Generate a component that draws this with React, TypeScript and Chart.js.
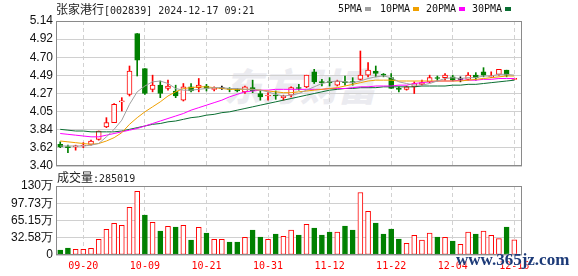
import React, { useEffect, useRef } from "react";
import { Chart, registerables } from "chart.js";

Chart.register(...registerables);

// ---- data ----
const tickLabels = ["09-20", "10-09", "10-21", "10-31", "11-12", "11-22", "12-04", "12-16"];
const tickIndex = [3, 11, 19, 27, 35, 43, 51, 59];

const opens = [3.66, 3.63, 3.63, 3.64, 3.66, 3.72, 3.87, 3.92, 4.17, 4.26, 4.99, 4.57, 4.32, 4.37, 4.33, 4.30, 4.19, 4.35, 4.34, 4.36, 4.32, 4.33, 4.33, 4.32, 4.29, 4.34, 4.27, 4.24, 4.25, 4.22, 4.25, 4.34, 4.35, 4.53, 4.41, 4.41, 4.37, 4.41, 4.41, 4.44, 4.49, 4.54, 4.50, 4.46, 4.33, 4.32, 4.35, 4.38, 4.41, 4.46, 4.46, 4.47, 4.44, 4.44, 4.49, 4.53, 4.47, 4.50, 4.55, 4.44];
const highs = [3.69, 3.65, 3.65, 3.68, 3.71, 3.82, 3.98, 4.15, 4.22, 4.60, 4.99, 4.57, 4.49, 4.42, 4.43, 4.37, 4.39, 4.39, 4.45, 4.38, 4.35, 4.36, 4.34, 4.33, 4.36, 4.43, 4.31, 4.28, 4.30, 4.25, 4.35, 4.38, 4.49, 4.56, 4.44, 4.46, 4.43, 4.48, 4.46, 4.78, 4.64, 4.60, 4.51, 4.51, 4.35, 4.36, 4.41, 4.43, 4.49, 4.48, 4.51, 4.49, 4.47, 4.52, 4.52, 4.58, 4.53, 4.56, 4.55, 4.45];
const lows = [3.62, 3.56, 3.59, 3.62, 3.65, 3.71, 3.86, 3.92, 4.06, 4.24, 4.48, 4.26, 4.29, 4.22, 4.31, 4.22, 4.18, 4.29, 4.29, 4.30, 4.30, 4.32, 4.29, 4.29, 4.27, 4.28, 4.19, 4.19, 4.20, 4.19, 4.23, 4.31, 4.34, 4.39, 4.36, 4.36, 4.36, 4.37, 4.37, 4.43, 4.47, 4.47, 4.47, 4.33, 4.29, 4.31, 4.27, 4.37, 4.40, 4.42, 4.43, 4.42, 4.41, 4.43, 4.43, 4.47, 4.46, 4.49, 4.47, 4.44];
const closes = [3.63, 3.62, 3.64, 3.65, 3.70, 3.82, 3.92, 4.14, 4.18, 4.54, 4.67, 4.27, 4.37, 4.27, 4.36, 4.24, 4.35, 4.30, 4.37, 4.33, 4.33, 4.33, 4.32, 4.30, 4.35, 4.30, 4.23, 4.25, 4.24, 4.24, 4.34, 4.33, 4.49, 4.41, 4.40, 4.40, 4.42, 4.40, 4.40, 4.49, 4.55, 4.51, 4.49, 4.33, 4.32, 4.35, 4.39, 4.40, 4.46, 4.45, 4.49, 4.43, 4.44, 4.49, 4.46, 4.49, 4.48, 4.56, 4.49, 4.45];

const ma5 = [3.64, 3.64, 3.64, 3.64, 3.65, 3.67, 3.75, 3.84, 3.95, 4.14, 4.29, 4.36, 4.41, 4.42, 4.39, 4.33, 4.31, 4.31, 4.32, 4.33, 4.34, 4.34, 4.33, 4.33, 4.32, 4.32, 4.31, 4.29, 4.26, 4.24, 4.25, 4.27, 4.31, 4.35, 4.39, 4.41, 4.42, 4.41, 4.40, 4.42, 4.45, 4.47, 4.48, 4.46, 4.41, 4.39, 4.37, 4.37, 4.39, 4.42, 4.45, 4.46, 4.45, 4.46, 4.46, 4.48, 4.48, 4.50, 4.50, 4.49];
const ma10 = [3.70, 3.69, 3.68, 3.67, 3.66, 3.67, 3.70, 3.74, 3.80, 3.90, 3.98, 4.05, 4.11, 4.17, 4.24, 4.29, 4.33, 4.34, 4.35, 4.35, 4.34, 4.33, 4.32, 4.32, 4.32, 4.32, 4.31, 4.30, 4.29, 4.28, 4.28, 4.29, 4.30, 4.31, 4.32, 4.33, 4.34, 4.36, 4.38, 4.40, 4.42, 4.43, 4.43, 4.43, 4.42, 4.42, 4.42, 4.42, 4.42, 4.42, 4.42, 4.42, 4.42, 4.43, 4.44, 4.45, 4.46, 4.47, 4.48, 4.48];
const ma20 = [3.79, 3.78, 3.77, 3.76, 3.75, 3.75, 3.77, 3.79, 3.81, 3.83, 3.85, 3.88, 3.91, 3.94, 3.97, 4.00, 4.03, 4.07, 4.10, 4.13, 4.16, 4.19, 4.23, 4.26, 4.29, 4.30, 4.31, 4.31, 4.32, 4.32, 4.32, 4.32, 4.32, 4.32, 4.32, 4.33, 4.33, 4.33, 4.34, 4.35, 4.35, 4.36, 4.36, 4.36, 4.37, 4.37, 4.39, 4.40, 4.41, 4.42, 4.42, 4.42, 4.43, 4.43, 4.43, 4.44, 4.44, 4.45, 4.45, 4.45];
const ma30 = [3.84, 3.83, 3.82, 3.82, 3.81, 3.81, 3.81, 3.81, 3.82, 3.84, 3.86, 3.88, 3.90, 3.91, 3.93, 3.94, 3.96, 3.98, 3.99, 4.01, 4.02, 4.04, 4.05, 4.07, 4.09, 4.11, 4.13, 4.15, 4.17, 4.19, 4.21, 4.23, 4.25, 4.27, 4.29, 4.31, 4.32, 4.33, 4.33, 4.34, 4.34, 4.34, 4.35, 4.35, 4.35, 4.35, 4.35, 4.36, 4.36, 4.36, 4.36, 4.37, 4.37, 4.38, 4.38, 4.39, 4.40, 4.41, 4.42, 4.43];

// volume in 万 shares
const volumes = [9.4, 13.2, 10.7, 10.7, 12.6, 29.5, 48.4, 59.7, 55.9, 89.8, 120, 75.4, 61.5, 45.2, 54, 52.8, 55.9, 28.3, 52.2, 41.4, 29.5, 29.5, 24.5, 24.5, 33.3, 47.1, 33.9, 29.5, 39.6, 35.2, 47.1, 37.7, 57.8, 50.9, 37.7, 43.3, 43.3, 54.6, 47.1, 118, 82.3, 60.3, 39.6, 49, 30.1, 22, 37.1, 28.3, 41.4, 33.9, 33.3, 26.4, 20.1, 43.3, 39.6, 45.2, 37.1, 30.8, 52.8, 28.5];
const volumeUp = [0, 0, 1, 1, 1, 1, 1, 1, 1, 1, 1, 0, 1, 0, 1, 0, 1, 0, 1, 0, 1, 1, 0, 0, 1, 0, 0, 1, 0, 1, 1, 0, 1, 0, 0, 0, 1, 0, 0, 1, 1, 0, 0, 0, 0, 1, 1, 1, 1, 0, 1, 0, 1, 1, 0, 1, 1, 1, 0, 1];

const priceTicks = ["3.40", "3.62", "3.84", "4.05", "4.27", "4.49", "4.70", "4.92", "5.14"];
const priceMin = 3.40;
const priceMax = 5.14;
const volumeTicks = ["0", "32.58万", "65.15万", "97.73万", "130万"];
const volumeMax = 130.3;

const titleName = "张家港行";
const titleCode = "[002839] 2024-12-17 09:21";
const volumeLabel = "成交量";
const volumeValue = ":285019";
const maNames = ["5PMA", "10PMA", "20PMA", "30PMA"];

// ---- styles ----
const RED = "#ff0000";
const GREEN = "#008000";
const BLACK = "#000000";
const MA_COLORS = ["#a0a0a0", "#f0a000", "#ff00ff", "#0a6e32"];
const W = 578;
const H = 276;
const LEFT = 56;
const RIGHT = 56;
const MONO = '"DejaVu Sans Mono", monospace';
const CJK = '"Noto Sans CJK SC", sans-serif';
const TICK_FONT = { family: '"Liberation Sans", Arial, sans-serif', size: 12 };

function candleColor(i: number) {
  if (closes[i] > opens[i]) return RED;
  if (closes[i] < opens[i]) return GREEN;
  return BLACK;
}

const frame = {
  id: "frame",
  afterDraw(chart: any) {
    const { ctx, chartArea } = chart;
    ctx.save();
    ctx.strokeStyle = "#8a8a8a";
    ctx.lineWidth = 1;
    const l = Math.round(chartArea.left) + 0.5;
    const t = Math.round(chartArea.top) + 0.5;
    const r = Math.round(chartArea.right) - 0.5;
    const b = Math.round(chartArea.bottom) - 0.5;
    ctx.strokeRect(l, t, r - l, b - t);
    ctx.restore();
  },
};

function xScale(showLabels: boolean) {
  return {
    type: "linear",
    min: -0.55,
    max: 60,
    offset: false,
    grid: { offset: false, color: "#d2d2d2", drawTicks: false, lineWidth: 1 },
    border: { display: false, dash: [4, 3] },
    afterBuildTicks: (s: any) => {
      s.ticks = tickIndex.map((v) => ({ value: v }));
    },
    afterFit: (s: any) => {
      s.height = showLabels ? 21 : 0;
    },
    ticks: {
      display: showLabels,
      autoSkip: false,
      maxRotation: 0,
      padding: 5,
      color: RED,
      font: { family: MONO, size: 10 },
      callback: (_v: any, idx: number) => tickLabels[idx],
    },
  };
}

function yScale(min: number, max: number, labels: string[]) {
  return {
    type: "linear",
    min,
    max,
    beginAtZero: false,
    grid: { color: "#d0d0d0", drawTicks: false, lineWidth: 1 },
    border: { display: false },
    afterBuildTicks: (s: any) => {
      s.ticks = labels.map((_, k) => ({ value: min + (k * (max - min)) / (labels.length - 1) }));
    },
    afterFit: (s: any) => {
      s.width = LEFT;
    },
    ticks: {
      autoSkip: false,
      padding: 3,
      color: "#111",
      font: TICK_FONT,
      callback: (_v: any, idx: number) => labels[idx],
    },
  };
}

export default function App() {
  const priceRef = useRef<HTMLCanvasElement>(null);
  const volRef = useRef<HTMLCanvasElement>(null);

  useEffect(() => {
    document.body.style.margin = "0";
    const idx = closes.map((_, i) => i);
    const colors = idx.map(candleColor);

    const price = new Chart(priceRef.current as HTMLCanvasElement, {
      type: "bar",
      data: {
        datasets: [
          ...[ma5, ma10, ma20, ma30].map((arr, k) => ({
            type: "line" as const,
            data: arr.map((v, i) => ({ x: i, y: v })),
            borderColor: MA_COLORS[k],
            borderWidth: 1,
            pointRadius: 0,
            tension: 0,
            order: 0,
          })),
          {
            type: "bar" as const,
            data: idx.map((i) => ({ x: i, y: [opens[i], closes[i]] })),
            backgroundColor: idx.map((i) => (closes[i] > opens[i] ? "#ffffff" : colors[i])),
            borderColor: colors,
            borderWidth: 1,
            borderSkipped: false,
            barThickness: 5,
            minBarLength: 1,
            grouped: false,
            order: 2,
          },
          {
            type: "bar" as const,
            data: idx.map((i) => ({ x: i, y: [lows[i], highs[i]] })),
            backgroundColor: colors,
            barThickness: 1,
            minBarLength: 1,
            grouped: false,
            order: 3,
          },
        ] as any,
      },
      options: {
        responsive: false,
        animation: false,
        devicePixelRatio: 1,
        layout: { padding: { top: 21, bottom: H - 166, left: 0, right: RIGHT } },
        plugins: { legend: { display: false }, tooltip: { enabled: false } },
        scales: {
          x: xScale(false),
          y: yScale(priceMin, priceMax, priceTicks),
        } as any,
      },
      plugins: [frame],
    });

    const vol = new Chart(volRef.current as HTMLCanvasElement, {
      type: "bar",
      data: {
        datasets: [
          {
            data: idx.map((i) => ({ x: i, y: volumes[i] })),
            backgroundColor: idx.map((i) => (volumeUp[i] ? "#ffffff" : GREEN)),
            borderColor: idx.map((i) => (volumeUp[i] ? RED : GREEN)),
            borderWidth: 1,
            borderSkipped: false,
            barThickness: 5,
            grouped: false,
          },
        ] as any,
      },
      options: {
        responsive: false,
        animation: false,
        devicePixelRatio: 1,
        layout: { padding: { top: 186, bottom: 0, left: 0, right: RIGHT } },
        plugins: { legend: { display: false }, tooltip: { enabled: false } },
        scales: {
          x: xScale(true),
          y: yScale(0, volumeMax, volumeTicks),
        } as any,
      },
      plugins: [frame],
    });

    return () => {
      price.destroy();
      vol.destroy();
    };
  }, []);

  const abs: React.CSSProperties = { position: "absolute", whiteSpace: "nowrap" };
  const legendX = [338, 380, 426, 472];
  const squareX = [365, 413, 459, 505];

  return (
    <div style={{ position: "relative", width: W, height: H, background: "#fff", overflow: "hidden" }}>
      <div
        style={{
          ...abs,
          left: 224,
          top: 62,
          fontFamily: CJK,
          fontWeight: 900,
          fontSize: 38,
          lineHeight: "46px",
          color: "#ebebf0",
          fontStyle: "italic",
        }}
      >
        东方财富
      </div>
      <canvas ref={priceRef} width={W} height={H} style={{ position: "absolute", left: 0, top: 0 }} />
      <canvas ref={volRef} width={W} height={H} style={{ position: "absolute", left: 0, top: 0 }} />
      <div style={{ ...abs, left: 56, top: 2, lineHeight: "14px", color: "#222" }}>
        <span style={{ fontFamily: CJK, fontSize: 12 }}>{titleName}</span>
        <span style={{ fontFamily: MONO, fontSize: 10 }}>{titleCode}</span>
      </div>
      {maNames.map((n, k) => (
        <React.Fragment key={n}>
          <div style={{ ...abs, left: legendX[k], top: 2, lineHeight: "14px", fontFamily: MONO, fontSize: 10, color: "#111" }}>
            {n}
          </div>
          <div style={{ position: "absolute", left: squareX[k], top: 7, width: 6, height: 4, background: MA_COLORS[k] }} />
        </React.Fragment>
      ))}
      <div style={{ ...abs, left: 57, top: 169, lineHeight: "16px", color: "#222" }}>
        <span style={{ fontFamily: CJK, fontSize: 12 }}>{volumeLabel}</span>
        <span style={{ fontFamily: MONO, fontSize: 10 }}>{volumeValue}</span>
      </div>
      <div
        style={{
          ...abs,
          left: 456,
          top: 251,
          fontFamily: '"Liberation Serif", serif',
          fontWeight: 700,
          fontSize: 17,
          lineHeight: "18px",
          color: "#1c3a78",
          textShadow: "0 0 2px #fff",
        }}
      >
        www.365jz.com
      </div>
    </div>
  );
}
